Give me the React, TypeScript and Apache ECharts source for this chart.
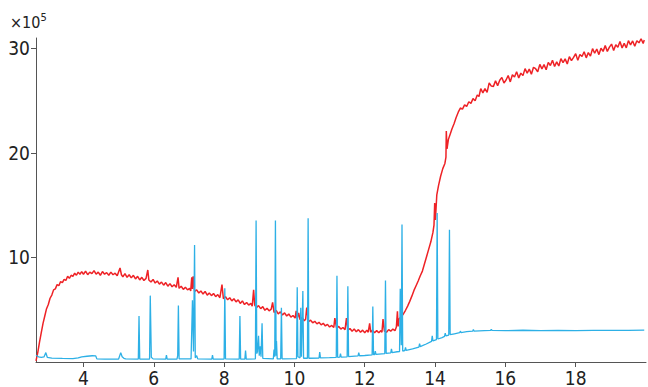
import React, { useEffect, useRef } from "react";
import * as echarts from "echarts";

// x-axis tick labels (minutes) and y-axis tick labels (x10^5)
const xTicks = [4, 6, 8, 10, 12, 14, 16, 18];
const yTicks = [10, 20, 30];

// Red trace [time, value x10^5]
const redTrace: number[][] = [
  [2.65, 0.1], [2.7, 0.9], [2.75, 1.9], [2.8, 2.8], [2.85, 3.7], [2.9, 4.4], [2.95, 5.1], [3.0, 5.5],
  [3.05, 6.1], [3.1, 6.4], [3.15, 6.9], [3.2, 7.0], [3.25, 7.4], [3.3, 7.3], [3.35, 7.7], [3.4, 7.6],
  [3.45, 7.9], [3.5, 7.8], [3.55, 8.2], [3.6, 8.0], [3.65, 8.3], [3.7, 8.2], [3.75, 8.5], [3.8, 8.3],
  [3.85, 8.6], [3.9, 8.4], [3.95, 8.65], [4.0, 8.4], [4.06, 8.7], [4.12, 8.35], [4.18, 8.6], [4.24, 8.45],
  [4.3, 8.75], [4.36, 8.4], [4.42, 8.6], [4.48, 8.3], [4.54, 8.65], [4.6, 8.4], [4.66, 8.55], [4.72, 8.3],
  [4.78, 8.6], [4.84, 8.35], [4.9, 8.5], [4.96, 8.25], [5.04, 9.0], [5.08, 8.35], [5.12, 8.15], [5.18, 8.45],
  [5.24, 8.1], [5.3, 8.35], [5.36, 8.05], [5.42, 8.3], [5.48, 7.95], [5.54, 8.2], [5.6, 7.85], [5.66, 8.1],
  [5.72, 7.8], [5.78, 8.0], [5.83, 8.8], [5.86, 7.85], [5.92, 7.65], [5.98, 7.9], [6.04, 7.55], [6.1, 7.75],
  [6.16, 7.45], [6.22, 7.65], [6.28, 7.35], [6.34, 7.6], [6.4, 7.25], [6.46, 7.5], [6.52, 7.2], [6.58, 7.4],
  [6.64, 7.15], [6.69, 8.1], [6.72, 7.05], [6.78, 7.25], [6.84, 6.95], [6.9, 7.15], [6.96, 6.9], [7.02, 7.05],
  [7.05, 6.8], [7.08, 8.1], [7.1, 7.0], [7.12, 8.2], [7.16, 6.75], [7.22, 6.9], [7.28, 6.6], [7.34, 6.8],
  [7.4, 6.5], [7.46, 6.75], [7.52, 6.4], [7.58, 6.6], [7.64, 6.35], [7.7, 6.55], [7.76, 6.25], [7.82, 6.45],
  [7.88, 6.15], [7.94, 7.4], [7.98, 6.05], [8.04, 6.25], [8.1, 5.95], [8.16, 6.15], [8.22, 5.85], [8.28, 6.05],
  [8.34, 5.75], [8.4, 5.95], [8.46, 5.6], [8.52, 5.85], [8.58, 5.5], [8.64, 5.7], [8.7, 5.45], [8.76, 5.6],
  [8.8, 5.35], [8.84, 6.9], [8.87, 5.45], [8.92, 5.2], [8.98, 5.4], [9.04, 5.1], [9.1, 5.3], [9.16, 4.95],
  [9.22, 5.15], [9.28, 4.9], [9.34, 5.05], [9.38, 5.7], [9.42, 4.75], [9.48, 4.95], [9.54, 4.6], [9.6, 4.8],
  [9.66, 4.5], [9.72, 4.7], [9.78, 4.4], [9.84, 4.6], [9.9, 4.3], [9.96, 4.45], [10.02, 4.2], [10.05, 4.9],
  [10.08, 4.15], [10.12, 4.7], [10.16, 4.05], [10.22, 4.25], [10.28, 3.95], [10.32, 4.1], [10.35, 5.2], [10.4, 3.85],
  [10.46, 4.0], [10.52, 3.75], [10.58, 3.9], [10.64, 3.65], [10.7, 3.8], [10.76, 3.55], [10.82, 3.7], [10.88, 3.45],
  [10.94, 3.6], [11.0, 3.35], [11.06, 3.5], [11.12, 3.3], [11.15, 4.2], [11.2, 3.25], [11.26, 3.4], [11.32, 3.15],
  [11.38, 3.3], [11.44, 3.1], [11.48, 4.2], [11.52, 3.05], [11.58, 3.2], [11.64, 2.95], [11.7, 3.15], [11.76, 2.9],
  [11.82, 3.1], [11.88, 2.85], [11.94, 3.05], [12.0, 2.8], [12.06, 3.05], [12.1, 2.85], [12.14, 3.7], [12.17, 2.85],
  [12.22, 3.05], [12.28, 2.8], [12.34, 3.0], [12.4, 2.8], [12.46, 3.0], [12.49, 2.85], [12.52, 4.1], [12.56, 2.95],
  [12.62, 2.85], [12.68, 3.1], [12.74, 2.95], [12.8, 3.15], [12.86, 3.0], [12.9, 3.35], [12.93, 4.85], [12.95, 3.4],
  [12.97, 4.1], [13.04, 4.35], [13.1, 4.6], [13.16, 4.95], [13.22, 5.35], [13.28, 5.8], [13.34, 6.3], [13.4, 6.85],
  [13.46, 7.3], [13.52, 7.75], [13.58, 8.25], [13.64, 8.7], [13.7, 9.4], [13.76, 10.1], [13.82, 10.8], [13.88, 11.5],
  [13.94, 12.4], [13.97, 13.1], [13.99, 15.2], [14.01, 13.6], [14.05, 16.0], [14.1, 16.9], [14.16, 17.8], [14.22, 18.5],
  [14.28, 19.0], [14.31, 19.6], [14.32, 22.1], [14.34, 20.4], [14.38, 21.3], [14.43, 21.8], [14.48, 22.3], [14.54, 22.8],
  [14.6, 23.4], [14.66, 23.9], [14.72, 24.3], [14.78, 24.2], [14.84, 24.6], [14.9, 24.45], [14.96, 24.9], [15.02, 24.75],
  [15.08, 25.2], [15.14, 25.0], [15.2, 25.55], [15.25, 25.4], [15.3, 26.15], [15.36, 25.75], [15.42, 26.15], [15.48, 25.8],
  [15.54, 26.7], [15.6, 26.4], [15.66, 26.37], [15.72, 26.9], [15.78, 26.44], [15.84, 26.96], [15.9, 27.23], [15.96, 26.7],
  [16.02, 26.98], [16.08, 27.41], [16.14, 26.8], [16.2, 27.48], [16.26, 27.26], [16.32, 27.77], [16.38, 27.18], [16.44, 27.64],
  [16.5, 27.4], [16.56, 28.07], [16.62, 27.64], [16.68, 28.02], [16.74, 27.54], [16.8, 28.2], [16.86, 28.06], [16.92, 27.77],
  [16.98, 28.48], [17.04, 28.04], [17.1, 28.45], [17.16, 27.96], [17.22, 28.67], [17.28, 28.37], [17.34, 28.87], [17.4, 28.27],
  [17.46, 28.72], [17.52, 28.32], [17.58, 29.03], [17.64, 28.64], [17.7, 29.0], [17.76, 28.51], [17.82, 29.22], [17.88, 28.83],
  [17.94, 29.14], [18.0, 29.5], [18.06, 28.86], [18.12, 29.42], [18.18, 29.23], [18.24, 29.69], [18.3, 29.1], [18.36, 29.61],
  [18.42, 29.27], [18.48, 29.98], [18.54, 29.54], [18.6, 29.95], [18.66, 29.41], [18.72, 30.02], [18.78, 29.72], [18.84, 30.27],
  [18.9, 29.72], [18.96, 30.12], [19.02, 30.42], [19.08, 29.81], [19.14, 30.36], [19.2, 30.11], [19.26, 30.66], [19.32, 30.05],
  [19.38, 30.48], [19.44, 30.06], [19.5, 30.75], [19.56, 30.34], [19.62, 30.72], [19.68, 30.21], [19.74, 30.74], [19.8, 30.54],
  [19.86, 30.93], [19.92, 30.48], [19.95, 30.8],
];

// Blue trace [time, value x10^5]
const blueTrace: number[][] = [
  [2.65, 0.65], [2.72, 0.5], [2.8, 0.45], [2.88, 0.5], [2.93, 0.9], [2.97, 0.45], [3.1, 0.38], [3.4, 0.35],
  [3.7, 0.33], [3.85, 0.4], [3.95, 0.5], [4.1, 0.55], [4.25, 0.6], [4.35, 0.58], [4.38, 0.3], [4.6, 0.28],
  [5.0, 0.28], [5.06, 0.9], [5.1, 0.5], [5.15, 0.35], [5.2, 0.3], [5.56, 0.28], [5.58, 4.4], [5.6, 0.28],
  [5.88, 0.28], [5.9, 6.35], [5.93, 0.45], [5.98, 0.3], [6.34, 0.28], [6.36, 0.65], [6.38, 0.28], [6.66, 0.28],
  [6.68, 0.6], [6.7, 5.4], [6.72, 0.3], [7.06, 0.3], [7.1, 5.9], [7.13, 1.0], [7.16, 11.2], [7.18, 0.4],
  [7.22, 0.6], [7.25, 0.3], [7.65, 0.28], [7.67, 0.65], [7.69, 0.28], [8.0, 0.28], [8.02, 7.05], [8.04, 0.3],
  [8.43, 0.28], [8.45, 4.4], [8.47, 0.28], [8.59, 0.28], [8.61, 1.1], [8.63, 0.28], [8.89, 0.3], [8.91, 13.55],
  [8.93, 0.8], [8.95, 1.0], [8.98, 2.5], [9.0, 0.6], [9.03, 1.5], [9.05, 0.5], [9.08, 3.7], [9.1, 0.35],
  [9.4, 0.3], [9.42, 1.2], [9.44, 0.5], [9.46, 13.55], [9.48, 0.6], [9.49, 2.0], [9.51, 0.3], [9.61, 0.3],
  [9.63, 5.2], [9.65, 0.3], [10.06, 0.33], [10.08, 7.15], [10.1, 0.5], [10.16, 0.4], [10.18, 5.2], [10.2, 0.5],
  [10.22, 0.5], [10.24, 6.8], [10.26, 0.36], [10.37, 0.36], [10.39, 13.75], [10.41, 0.36], [10.7, 0.38], [10.72, 0.95],
  [10.74, 0.4], [11.0, 0.42], [11.19, 0.44], [11.21, 8.25], [11.23, 0.45], [11.29, 0.46], [11.31, 0.8], [11.33, 0.47],
  [11.5, 0.5], [11.52, 7.25], [11.54, 0.52], [11.81, 0.58], [11.83, 0.9], [11.85, 0.6], [12.0, 0.62], [12.21, 0.68],
  [12.23, 5.3], [12.25, 0.7], [12.28, 0.71], [12.3, 1.05], [12.32, 0.73], [12.57, 0.8], [12.59, 7.8], [12.61, 0.82],
  [12.74, 0.88], [12.76, 1.25], [12.78, 0.9], [12.92, 0.98], [12.99, 1.0], [13.01, 7.0], [13.04, 1.6], [13.06, 13.15],
  [13.08, 1.05], [13.14, 1.1], [13.16, 1.4], [13.18, 1.12], [13.36, 1.25], [13.54, 1.42], [13.56, 1.75], [13.58, 1.48],
  [13.64, 1.56], [13.75, 1.72], [13.9, 1.98], [13.92, 2.5], [13.94, 2.03], [14.04, 2.15], [14.06, 14.25], [14.08, 2.2],
  [14.2, 2.34], [14.27, 2.45], [14.29, 2.75], [14.31, 2.5], [14.39, 2.58], [14.41, 12.65], [14.43, 2.62], [14.55, 2.7],
  [14.7, 2.8], [14.72, 2.95], [14.74, 2.82], [14.9, 2.9], [15.07, 2.95], [15.09, 3.1], [15.11, 2.96], [15.26, 2.98],
  [15.4, 3.0], [15.58, 3.02], [15.6, 3.12], [15.62, 3.02], [16.0, 3.0], [16.5, 3.04], [17.0, 3.01], [17.5, 3.03],
  [18.0, 3.0], [18.5, 3.03], [19.0, 3.02], [19.5, 3.03], [19.95, 3.05],
];

const FONT = "'Liberation Sans Narrow', 'DejaVu Sans Condensed', 'Roboto', sans-serif";

export default function App() {
  const ref = useRef<HTMLDivElement>(null);

  useEffect(() => {
    if (!ref.current) return;
    const chart = echarts.init(ref.current, undefined, { renderer: "svg" });
    const axisColor = "#555";
    chart.setOption({
      animation: false,
      backgroundColor: "#fff",
      grid: { left: 36, right: 2, top: 38, bottom: 20, containLabel: false },
      xAxis: {
        type: "value",
        min: 2.65,
        max: 20,
        axisLine: { show: true, lineStyle: { color: axisColor, width: 1 } },
        axisTick: { show: true, length: 5, customValues: xTicks, lineStyle: { color: axisColor } },
        axisLabel: {
          customValues: xTicks,
          fontSize: 19,
          fontFamily: FONT,
          color: "#222",
          margin: 6,
        },
        splitLine: { show: false },
      },
      yAxis: {
        type: "value",
        min: 0,
        max: 31,
        axisLine: { show: true, lineStyle: { color: axisColor, width: 1 } },
        axisTick: { show: true, length: 5, customValues: yTicks, lineStyle: { color: axisColor } },
        axisLabel: {
          customValues: yTicks,
          fontSize: 19,
          fontFamily: FONT,
          color: "#222",
          margin: 6,
        },
        splitLine: { show: false },
      },
      graphic: [
        {
          type: "text",
          left: 10,
          top: 12,
          style: {
            text: "{a|×10}{b|5}",
            rich: {
              a: { fontSize: 16, fontFamily: FONT, fill: "#222", verticalAlign: "bottom", lineHeight: 18 },
              b: { fontSize: 11, fontFamily: FONT, fill: "#222", verticalAlign: "top", lineHeight: 18, padding: [0, 0, 8, 0] },
            },
          },
        },
      ],
      series: [
        {
          type: "line",
          data: redTrace,
          showSymbol: false,
          lineStyle: { color: "#ee2226", width: 1.5 },
          z: 2,
        },
        {
          type: "line",
          data: blueTrace,
          showSymbol: false,
          lineStyle: { color: "#2db0e6", width: 1.3 },
          z: 3,
        },
      ],
    });
    return () => chart.dispose();
  }, []);

  return <div ref={ref} style={{ width: 648, height: 387, position: "fixed", left: 0, top: 0 }} />;
}
